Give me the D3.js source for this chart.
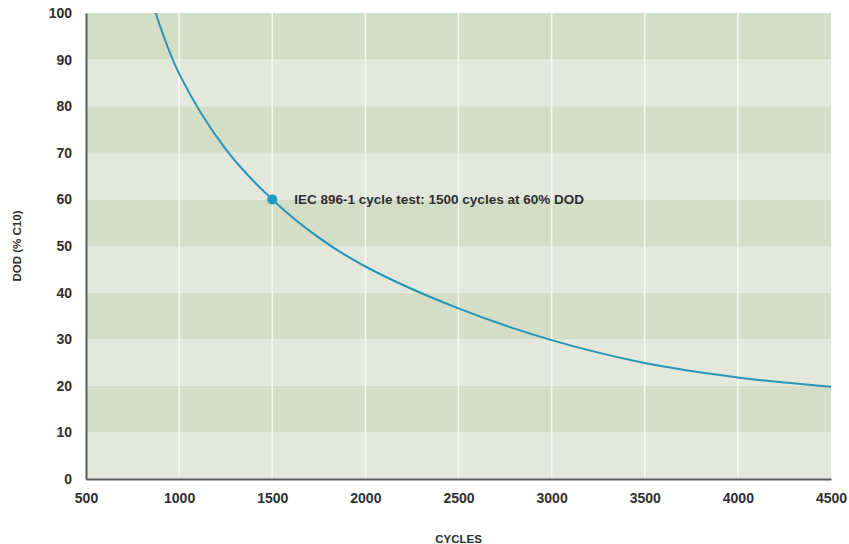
<!DOCTYPE html>
<html><head><meta charset="utf-8">
<script src="https://cdn.jsdelivr.net/npm/d3@7"></script>
<style>
body{margin:0;background:#fff;}
text{font-family:"Liberation Sans",Arial,sans-serif;font-weight:bold;fill:#2e2e33;}
</style></head>
<body><svg id="c" width="849" height="544"></svg>
<script>
const cycles = [874, 1000, 1250, 1500, 1750, 2000, 2500, 3000, 3500, 4000, 4500];
const dod    = [100, 87, 70.8, 60, 51.8, 45.6, 36.6, 29.8, 24.9, 21.8, 19.8];
const xTicks = [500, 1000, 1500, 2000, 2500, 3000, 3500, 4000, 4500];
const yTicks = [0, 10, 20, 30, 40, 50, 60, 70, 80, 90, 100];
const markerPoint = {cycles: 1500, dod: 60};
const annotation = "IEC 896-1 cycle test: 1500 cycles at 60% DOD";
const xTitle = "CYCLES", yTitle = "DOD (% C10)";

const svg = d3.select("#c");
const L = 86, R = 831, T = 13, B = 479;
const x = d3.scaleLinear().domain([500, 4500]).range([L, R]);
const y = d3.scaleLinear().domain([0, 100]).range([B, T]);

// bands
const bands = d3.range(0, 100, 10);
svg.append("g").selectAll("rect").data(bands).join("rect")
  .attr("x", L).attr("width", R - L)
  .attr("y", d => y(d + 10)).attr("height", d => y(d) - y(d + 10))
  .attr("fill", d => (d / 10) % 2 === 1 ? "#d4ddc6" : "#e4e8dc");

// vertical grid
svg.append("g").selectAll("line").data(xTicks.filter(v => v > 500 && v < 4500)).join("line")
  .attr("x1", d => x(d)).attr("x2", d => x(d)).attr("y1", T).attr("y2", B)
  .attr("stroke", "#f7f8f2").attr("stroke-width", 1.5);

// axes
const xa = svg.append("g").attr("transform", `translate(0,${B})`)
  .call(d3.axisBottom(x).tickValues(xTicks).tickSize(0).tickPadding(14).tickFormat(d3.format("d")));
xa.select(".domain").attr("stroke", "#5a5a5e").attr("stroke-width", 2);
xa.selectAll("text").attr("font-size", 14).style("font-family", null);

const ya = svg.append("g").attr("transform", `translate(${L},0)`)
  .call(d3.axisLeft(y).tickValues(yTicks).tickSize(0).tickPadding(14).tickFormat(d3.format("d")));
ya.select(".domain").attr("stroke", "#5a5a5e").attr("stroke-width", 2);
ya.selectAll("text").attr("font-size", 14).style("font-family", null);
svg.selectAll(".tick text").attr("fill", "#2e2e33");

// curve
const data = cycles.map((c, i) => ({c, d: dod[i]}));
svg.append("path").datum(data)
  .attr("d", d3.line().x(d => x(d.c)).y(d => y(d.d)).curve(d3.curveCatmullRom.alpha(0.5)))
  .attr("fill", "none").attr("stroke", "#2596b5").attr("stroke-width", 2);

svg.append("circle").attr("cx", x(markerPoint.cycles)).attr("cy", y(markerPoint.dod))
  .attr("r", 5).attr("fill", "#1f9ac4");

svg.append("text").attr("x", x(markerPoint.cycles) + 22).attr("y", y(markerPoint.dod) + 4.5)
  .attr("font-size", 13.5).text(annotation);

svg.append("text").attr("x", (L + R) / 2).attr("y", 543).attr("text-anchor", "middle")
  .attr("font-size", 11.5).text(xTitle);
svg.append("text").attr("transform", `translate(21,${(T + B) / 2}) rotate(-90)`)
  .attr("text-anchor", "middle").attr("font-size", 11.5).text(yTitle);
</script></body></html>
